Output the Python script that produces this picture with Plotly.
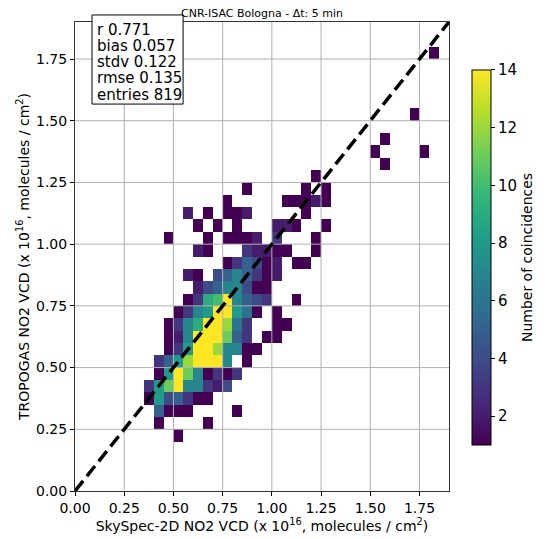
import numpy as np
import plotly.graph_objects as go

# text
title_text = "CNR-ISAC Bologna - Δt: 5 min"
x_title = "SkySpec-2D NO2 VCD (x 10<sup>16</sup>, molecules / cm<sup>2</sup>)"
y_title = "TROPOGAS NO2 VCD (x 10<sup>16</sup>, molecules / cm<sup>2</sup>)"
cbar_title = "Number of coincidences"
stat_names = ["r", "bias", "stdv", "rmse", "entries"]
stat_values = ["0.771", "0.057", "0.122", "0.135", "819"]

axis_ticks = [0.0, 0.25, 0.5, 0.75, 1.0, 1.25, 1.5, 1.75]
cbar_ticks = [2, 4, 6, 8, 10, 12, 14]

# 2D histogram, 0.05 x 0.05 bins; lower edge of each filled row,
# lower edges of the filled bins in it and their counts
bin_width = 0.05
row_y = [0.20, 0.25, 0.30, 0.35, 0.40, 0.45, 0.50, 0.55, 0.60, 0.65, 0.70,
         0.75, 0.80, 0.85, 0.90, 0.95, 1.00, 1.05, 1.10, 1.15, 1.20, 1.25,
         1.30, 1.35, 1.40, 1.50, 1.75]
row_x = [
    [0.50],
    [0.40, 0.65],
    [0.40, 0.45, 0.50, 0.55, 0.80],
    [0.35, 0.40, 0.45, 0.50, 0.55, 0.60, 0.65],
    [0.35, 0.40, 0.45, 0.50, 0.55, 0.60, 0.65, 0.70, 0.75],
    [0.40, 0.45, 0.50, 0.55, 0.60, 0.65, 0.70, 0.75, 0.80],
    [0.40, 0.45, 0.50, 0.55, 0.60, 0.65, 0.70, 0.75, 0.85],
    [0.45, 0.50, 0.55, 0.60, 0.65, 0.70, 0.75, 0.80, 0.85, 0.90],
    [0.45, 0.50, 0.55, 0.60, 0.65, 0.70, 0.75, 0.80, 0.85, 0.95, 1.00],
    [0.45, 0.50, 0.55, 0.60, 0.65, 0.70, 0.75, 0.80, 0.85, 1.00, 1.05],
    [0.50, 0.55, 0.60, 0.65, 0.70, 0.75, 0.80, 0.85, 0.90, 1.00],
    [0.55, 0.60, 0.65, 0.70, 0.75, 0.80, 0.85, 0.90, 0.95, 1.10],
    [0.60, 0.65, 0.70, 0.75, 0.80, 0.85, 0.90, 0.95],
    [0.55, 0.60, 0.70, 0.75, 0.80, 0.85, 0.90, 0.95, 1.00],
    [0.75, 0.80, 0.85, 0.90, 0.95, 1.00, 1.10, 1.15],
    [0.60, 0.65, 0.85, 0.90, 0.95, 1.00, 1.05, 1.20],
    [0.45, 0.65, 0.75, 0.80, 0.85, 0.90, 1.00, 1.20],
    [0.60, 0.70, 0.80, 1.00, 1.05, 1.10, 1.25],
    [0.55, 0.65, 0.75, 0.80, 0.85, 1.15],
    [0.75, 1.05, 1.10, 1.15, 1.20, 1.25],
    [0.85, 1.15, 1.25],
    [1.20],
    [1.55],
    [1.50, 1.75],
    [1.55],
    [1.70],
    [1.80],
]
row_counts = [
    [1],
    [1, 1],
    [5, 1, 1, 1, 1],
    [1, 8, 4, 5, 3, 1, 1],
    [3, 8, 11, 16, 7, 7, 3, 2, 4],
    [1, 8, 18, 11, 7, 1, 3, 1, 3],
    [3, 5, 8, 12, 22, 26, 18, 7, 1],
    [1, 3, 8, 28, 30, 12, 7, 7, 1, 1],
    [1, 2, 7, 26, 30, 24, 11, 5, 3, 1, 1],
    [1, 3, 7, 9, 26, 25, 12, 6, 3, 1, 1],
    [1, 3, 7, 8, 18, 17, 8, 6, 1, 1],
    [1, 3, 9, 10, 15, 7, 5, 4, 3, 1],
    [2, 4, 5, 7, 7, 4, 1, 1],
    [2, 1, 4, 5, 7, 5, 3, 1, 2],
    [1, 3, 5, 4, 1, 2, 1, 1],
    [2, 1, 3, 2, 2, 1, 1, 1],
    [1, 1, 1, 1, 1, 2, 3, 1],
    [1, 1, 1, 2, 2, 1, 1],
    [2, 1, 1, 1, 2, 1],
    [1, 1, 1, 1, 2, 1],
    [1, 1, 1],
    [1],
    [1],
    [1, 1],
    [1],
    [1],
    [1],
]

axis_max = 1.9
nbins = int(round(axis_max / bin_width))
z = np.full((nbins, nbins), np.nan)
for y, xs, ns in zip(row_y, row_x, row_counts):
    iy = int(round(y / bin_width))
    for x, n in zip(xs, ns):
        z[iy, int(round(x / bin_width))] = n
z_list = [[None if np.isnan(v) else v for v in row] for row in z]

font = "DejaVu Sans"

fig = go.Figure()
fig.add_trace(go.Heatmap(
    z=z_list,
    x0=bin_width / 2, dx=bin_width,
    y0=bin_width / 2, dy=bin_width,
    colorscale="Viridis",
    zmin=1, zmax=14,
    hoverongaps=False,
    colorbar=dict(
        x=1.061, xanchor="left", xpad=0,
        y=0.498, yanchor="middle", len=0.8, lenmode="fraction", ypad=0,
        thickness=19,
        outlinecolor="black", outlinewidth=1,
        tickvals=cbar_ticks, ticks="outside", ticklen=4, tickcolor="black",
        tickfont=dict(family=font, size=15, color="black"),
        title=dict(text=cbar_title, side="right",
                   font=dict(family=font, size=14, color="black")),
    ),
))

# grid above the cells (like matplotlib), 1:1 line above the grid
for v in axis_ticks[1:]:
    fig.add_shape(type="line", xref="x", yref="y domain", x0=v, x1=v, y0=0, y1=1,
                  line=dict(color="#b0b0b0", width=1), layer="above")
    fig.add_shape(type="line", xref="x domain", yref="y", x0=0, x1=1, y0=v, y1=v,
                  line=dict(color="#b0b0b0", width=1), layer="above")
fig.add_shape(type="line", xref="x", yref="y", x0=0, y0=0, x1=axis_max, y1=axis_max,
              line=dict(color="black", width=3.5, dash="13px,6px"), layer="above")

# stats box, top-left, poking out above the frame
fig.add_shape(type="rect", xref="paper", yref="paper",
              x0=0.0455, x1=0.289, y0=0.825, y1=1.015,
              line=dict(color="black", width=1), fillcolor="white", layer="above")
for i, (n, v) in enumerate(zip(stat_names, stat_values)):
    fig.add_annotation(
        text=f"{n} {v}", xref="paper", yref="paper",
        x=0.053, y=0.9835 - i * 0.0346,
        xanchor="left", yanchor="middle", showarrow=False,
        font=dict(family=font, size=15, color="black"),
    )

axis_common = dict(
    range=[0, axis_max], tickvals=axis_ticks, tickformat=".2f",
    ticks="outside", ticklen=4, tickcolor="black",
    showline=True, mirror=True, linecolor="#333333", linewidth=1,
    showgrid=False, zeroline=False,
    tickfont=dict(family=font, size=14, color="black"),
)
fig.update_xaxes(**axis_common,
                 title=dict(text=x_title, standoff=6,
                            font=dict(family=font, size=14, color="black")))
fig.update_yaxes(**axis_common,
                 title=dict(text=y_title, standoff=3,
                            font=dict(family=font, size=14, color="black")))

# the page puts the figure 8 px in from the top-left corner
fig.update_layout(
    width=542, height=531,
    margin=dict(l=67, r=101, t=14, b=48, autoexpand=False),
    paper_bgcolor="white", plot_bgcolor="white",
    title=dict(text=title_text, x=0.5, xref="paper", y=0.99, yref="container",
               yanchor="middle", font=dict(family=font, size=11, color="black")),
    font=dict(family=font, color="black"),
)

fig.write_html("out.html")
